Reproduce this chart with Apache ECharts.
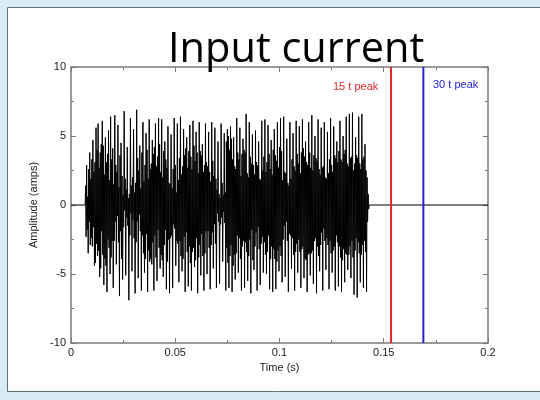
<!DOCTYPE html>
<html>
<head>
<meta charset="utf-8">
<script src="https://cdn.jsdelivr.net/npm/echarts@6/dist/echarts.min.js"></script>
<style>
  html, body { margin: 0; padding: 0; background: #d9ecf3; }
  #chart { width: 540px; height: 400px; }
</style>
</head>
<body>
<div id="chart"></div>
<script>
// sampled input current (amps), one sample every 0.25 ms starting at 7 ms
const sampleStart = 0.007;
const sampleStep = 0.00025;
const current = [
  1.4,-2.3,2.9, -1.8,0.6,-3.5, 2.6,-1.2,3.8, -2.9,1.9,-2.4, 3.3,-3.0,4.7, -1.6,2.4,-4.4,
  3.1,-4.2,5.6, -2.8,4.0,-3.7, 5.9,-3.3,2.7, -5.2,3.8,-4.6, 4.4,-1.9,6.1, -3.6,4.3,-5.8,
  2.2,-3.9,4.9, -4.4,3.1,-6.3, 3.7,-2.5,5.4, -3.1,1.8,-5.0, 6.4,-3.8,3.3, -2.6,4.1,-6.0,
  1.5,-2.6,6.5, -1.2,2.9,-4.3, 2.4,-0.8,5.8, -2.7,1.3,-6.6, 3.6,-1.9,4.5, -3.9,2.1,-5.4,
  0.7,-1.6,6.8, -0.4,1.9,-5.1, 1.1,-0.9,4.2, -1.5,0.5,-6.9, 0.8,-2.2,6.3, -0.6,1.4,-4.8,
  2.0,-1.1,5.5, -2.4,0.9,-6.4, 1.6,-2.7,6.9, -1.2,3.4,-5.3, 2.5,-0.7,4.3, -1.9,1.2,-6.2,
  3.8,-2.2,6.0, -3.5,1.7,-4.9, 2.9,-3.9,5.2, -2.1,4.0,-6.3, 1.9,-3.3,6.2, -4.1,2.6,-3.9,
  3.0,-4.3,4.7, -2.7,3.7,-6.2, 4.2,-2.2,5.9, -3.8,2.8,-5.5, 3.5,-1.8,6.3, -3.1,4.4,-4.6,
  2.4,-3.6,6.2, -4.0,2.0,-5.2, 3.9,-2.9,4.6, -1.8,3.3,-6.1, 2.7,-4.1,5.7, -2.5,1.6,-6.4,
  1.5,-2.4,5.1, -2.2,1.2,-6.0, 2.6,-1.4,6.3, -1.7,2.9,-4.4, 0.9,-2.6,5.9, -2.8,1.8,-5.6,
  3.4,-2.6,6.4, -3.7,2.2,-4.8, 2.8,-3.9,5.5, -2.3,3.6,-6.3, 4.1,-2.0,4.9, -3.4,2.7,-5.9,
  3.9,-3.0,5.8, -4.2,3.5,-6.2, 2.6,-3.4,6.1, -3.1,4.3,-4.5, 3.2,-4.0,5.3, -2.4,3.8,-6.4,
  2.3,-3.8,6.0, -2.9,3.9,-5.1, 3.6,-2.1,4.4, -3.7,2.4,-6.2, 2.9,-3.5,5.9, -1.9,3.1,-5.0,
  2.8,-1.9,5.3, -3.1,2.4,-6.1, 1.7,-2.9,6.0, -2.0,3.2,-4.6, 2.1,-1.4,5.6, -2.8,1.9,-6.0,
  1.1,-0.6,4.6, -1.2,0.8,-5.7, 0.5,-1.4,5.9, -0.9,1.6,-4.1, 0.7,-0.5,5.2, -1.3,0.9,-6.2,
  4.6,-3.1,5.5, -4.2,5.0,-6.0, 4.0,-3.7,5.7, -2.9,4.8,-6.3, 3.3,-4.4,4.9, -3.6,2.8,-5.4,
  2.6,-3.5,6.3, -2.2,3.8,-4.9, 3.3,-2.4,5.6, -3.9,2.1,-6.2, 3.7,-3.0,4.8, -2.6,4.0,-6.0,
  3.8,-2.7,6.6, -3.4,2.3,-5.5, 2.0,-3.7,6.0, -2.5,3.5,-6.4, 3.0,-1.8,5.1, -4.0,2.9,-4.7,
  2.2,-3.0,5.4, -2.0,3.1,-6.2, 2.9,-1.6,4.6, -3.2,1.9,-5.8, 1.8,-2.8,6.1, -2.3,2.5,-4.9,
  3.5,-2.7,6.2, -3.6,2.4,-5.0, 3.1,-3.4,5.8, -2.2,3.7,-6.1, 2.6,-3.9,4.7, -3.0,2.2,-6.3,
  4.0,-3.2,5.5, -3.9,3.6,-6.1, 3.2,-4.1,6.0, -3.3,2.7,-4.8, 4.2,-3.0,6.3, -3.7,3.9,-5.6,
  1.8,-2.5,6.4, -1.5,2.4,-5.2, 2.3,-1.2,4.8, -2.6,1.6,-6.3, 1.4,-2.1,6.0, -2.2,1.9,-4.6,
  3.3,-2.4,5.2, -3.6,2.8,-6.2, 2.5,-3.4,6.1, -2.8,3.7,-4.9, 3.0,-2.5,5.7, -3.4,2.3,-6.0,
  3.8,-3.2,6.2, -3.0,4.1,-5.3, 3.5,-3.9,4.6, -4.0,3.1,-6.3, 2.9,-3.6,6.0, -3.5,3.8,-5.1,
  2.7,-3.5,6.5, -3.3,2.5,-5.7, 3.6,-2.6,5.0, -2.4,3.4,-6.4, 3.2,-3.0,6.2, -3.7,2.6,-4.8,
  2.2,-2.9,5.6, -2.0,2.7,-6.2, 2.8,-1.7,6.0, -2.6,2.0,-4.7, 1.9,-2.4,5.3, -2.9,2.3,-6.1,
  3.3,-2.6,6.3, -3.5,2.9,-4.9, 2.4,-3.3,5.7, -3.0,3.6,-6.2, 3.4,-2.2,4.6, -2.7,3.1,-5.9,
  3.9,-3.0,6.1, -3.8,3.3,-6.3, 3.1,-4.0,5.0, -3.2,3.7,-5.6, 4.0,-3.5,6.4, -3.6,3.0,-4.7,
  2.8,-3.6,6.6, -3.0,3.4,-5.3, 3.5,-2.6,6.7, -3.8,2.5,-6.5, 3.0,-3.3,4.9, -2.4,3.6,-6.7,
  3.4,-2.7,6.4, -3.5,3.0,-5.6, 2.6,-3.6,6.6, -2.9,3.3,-6.0, 3.5,-2.6,4.4, -3.4,2.5,-6.3,
  2.0,-1.2,0.8,-0.3,0
];
// flat zero before and after the pulse train
const restBefore = [[0, 0], [0.0068, 0]];
const restAfter = [[0.1436, 0], [0.2, 0]];

const peakTimes = [0.1535, 0.169];
const peakLabels = ['15 t peak', '30 t peak'];
const peakColors = ['#e5262b', '#2222d8'];

const xTicks = { min: 0, max: 0.2, interval: 0.05 };
const yTicks = { min: -10, max: 10, interval: 5 };

const chart = echarts.init(document.getElementById('chart'));

// build [t, value] pairs
const signal = restBefore.slice();
current.forEach((v, i) => {
    signal.push([+(sampleStart + i * sampleStep).toFixed(5), v]);
});
restAfter.forEach(p => signal.push(p));

const axisColor = '#7a7a7a';
const labelFont = { fontFamily: 'Liberation Sans', fontSize: 11, color: '#222' };

function boxAxis(base, showLabel) {
    return {
        type: 'value',
        min: base.min,
        max: base.max,
        interval: base.interval,
        axisLine: { show: true, onZero: false, lineStyle: { color: axisColor, width: 1.5 } },
        axisTick: { show: true, inside: true, length: 5, lineStyle: { color: axisColor } },
        minorTick: { show: true, splitNumber: 2, length: 3, lineStyle: { color: axisColor } },
        splitLine: { show: false },
        axisLabel: Object.assign({ show: showLabel, margin: 4 }, labelFont)
    };
}

const xBottom = Object.assign(boxAxis(xTicks, true), {
    position: 'bottom',
    name: 'Time (s)',
    nameLocation: 'middle',
    nameGap: 17,
    nameTextStyle: labelFont
});
const xTop = Object.assign(boxAxis(xTicks, false), { position: 'top' });
const yLeft = Object.assign(boxAxis(yTicks, true), {
    position: 'left',
    name: 'Amplitude (amps)',
    nameLocation: 'middle',
    nameGap: 26,
    nameTextStyle: labelFont
});
yLeft.axisLabel.margin = 5;
const yRight = Object.assign(boxAxis(yTicks, false), { position: 'right' });

const peakSeries = peakTimes.map((t, i) => ({
    type: 'line',
    data: [[t, yTicks.min], [t, yTicks.max]],
    showSymbol: false,
    silent: true,
    lineStyle: { color: peakColors[i], width: 2 },
    z: 3
}));

const option = {
    animation: false,
    backgroundColor: '#d9ecf3',
    title: {
        text: 'Input current',
        left: 163,
        top: 24,
        textStyle: { fontFamily: 'Open Sans', fontSize: 41.5, fontWeight: 'normal', color: '#000' }
    },
    grid: { left: 71, right: 52, top: 67, bottom: 57 },
    graphic: [
        {
            type: 'rect', z: -10,
            shape: { x: 7.5, y: 7.5, width: 540, height: 384 },
            style: { fill: '#fff', stroke: '#5f7078', lineWidth: 1 }
        },
        {
            type: 'text', left: 333, top: 81,
            style: { text: peakLabels[0], fill: peakColors[0], font: '11px "Liberation Sans"' }
        },
        {
            type: 'text', left: 433, top: 79,
            style: { text: peakLabels[1], fill: peakColors[1], font: '11px "Liberation Sans"' }
        }
    ],
    xAxis: [xBottom, xTop],
    yAxis: [yLeft, yRight],
    series: [
        {
            type: 'line',
            data: signal,
            showSymbol: false,
            sampling: null,
            lineStyle: { color: '#000', width: 1 },
            z: 2
        }
    ].concat(peakSeries)
};

chart.setOption(option);
</script>
</body>
</html>
